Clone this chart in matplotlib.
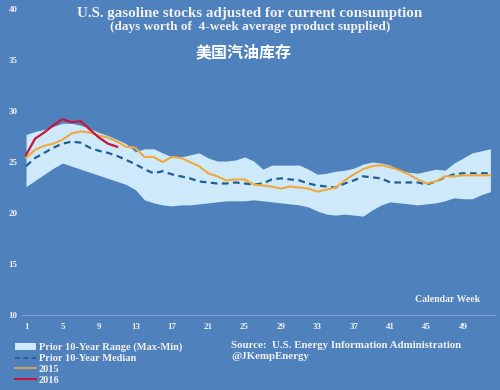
import numpy as np
import matplotlib
matplotlib.use("Agg")
import matplotlib.pyplot as plt
from matplotlib.patches import Patch
from matplotlib.lines import Line2D

weeks = np.arange(1, 53)
range_max = [27.7, 28.0, 28.2, 28.5, 28.8, 28.8, 28.6, 28.3, 27.9, 27.6, 27.2, 26.8, 26.0,
             26.3, 26.3, 25.9, 25.5, 25.5, 25.7, 25.9, 25.4, 25.1, 25.1, 25.2, 25.5, 25.1,
             24.3, 24.7, 24.7, 24.7, 24.7, 24.3, 23.8, 23.9, 24.1, 24.2, 24.4, 24.8, 25.0,
             24.9, 24.7, 24.2, 24.0, 23.9, 24.1, 24.3, 24.2, 24.9, 25.4, 25.9, 26.1, 26.3]
range_min = [22.6, 23.2, 23.8, 24.4, 24.9, 24.6, 24.3, 24.0, 23.7, 23.4, 23.1, 22.8, 22.3,
             21.3, 21.0, 20.8, 20.7, 20.8, 20.8, 20.9, 21.0, 21.1, 21.2, 21.2, 21.2, 21.3,
             21.2, 21.1, 21.0, 20.9, 20.8, 20.6, 20.2, 19.9, 19.8, 19.9, 19.8, 19.7, 20.3,
             20.8, 21.1, 21.0, 20.9, 20.8, 20.9, 21.0, 21.2, 21.5, 21.4, 21.4, 21.8, 22.1]
median = [24.6, 25.4, 25.9, 26.4, 26.8, 27.0, 26.9, 26.4, 26.1, 25.9, 25.6, 25.2, 24.8,
          24.3, 23.9, 24.1, 23.8, 23.6, 23.4, 23.1, 23.0, 22.9, 22.9, 23.0, 22.9, 22.8,
          22.9, 23.3, 23.4, 23.3, 23.2, 22.9, 22.7, 22.6, 22.5, 22.9, 23.2, 23.6, 23.5,
          23.4, 23.0, 23.0, 23.0, 23.0, 22.8, 23.1, 23.5, 23.8, 23.9, 23.9, 23.9, 23.9]
y2015 = [25.4, 26.2, 26.6, 26.8, 27.2, 27.8, 28.0, 27.9, 27.6, 27.4, 27.0, 26.5, 26.4,
         25.5, 25.5, 25.0, 25.5, 25.4, 25.0, 24.6, 23.9, 23.6, 23.2, 23.3, 23.3, 22.8,
         22.7, 22.6, 22.4, 22.6, 22.5, 22.4, 22.1, 22.3, 22.5, 23.2, 23.8, 24.3, 24.6,
         24.7, 24.5, 24.2, 23.8, 23.3, 22.9, 23.1, 23.6, 23.6, 23.7, 23.7, 23.7, 23.7]
y2016 = [25.7, 27.3, 27.9, 28.6, 29.2, 28.9, 29.0, 28.2, 27.4, 26.8, 26.5]
xticks = np.arange(1, 53, 4)
yticks = [10, 15, 20, 25, 30, 35, 40]

bg = "#4F81BD"
band_c = "#CDE9FA"
med_c = "#1F5F94"
c2015 = "#F2A93B"
c2016 = "#C8143C"
txt = "#F2F2F2"
serif = "Liberation Serif"

fig = plt.figure(figsize=(5, 3.9), dpi=100, facecolor=bg)
ax = fig.add_axes([0.043, 0.192, 0.947, 0.785])
ax.set_facecolor(bg)

ax.fill_between(weeks, range_min, range_max, color=band_c, lw=0)
ax.plot(weeks, median, color=med_c, lw=1.6, ls=(0, (3, 2)))
ax.plot(weeks, y2015, color=c2015, lw=1.5)
ax.plot(weeks[:len(y2016)], y2016, color=c2016, lw=1.6)

ax.set_xlim(0.5, 52.5)
ax.set_ylim(10, 40)
ax.set_xticks(xticks)
ax.set_yticks(yticks)
for s in ["top", "right", "left"]:
    ax.spines[s].set_visible(False)
ax.spines["bottom"].set_color("#7FA3D0")
ax.spines["bottom"].set_linewidth(0.8)
ax.tick_params(length=0, labelcolor=txt, labelsize=6.5)
ax.tick_params(axis="x", pad=6)
ax.tick_params(axis="y", pad=3)
for lab in ax.get_xticklabels() + ax.get_yticklabels():
    lab.set_fontfamily(serif)
    lab.set_fontweight("bold")

fig.text(0.5, 0.966, "U.S. gasoline stocks adjusted for current consumption",
         ha="center", va="center", color=txt, fontsize=10.8, fontweight="bold", family=serif)
fig.text(0.5, 0.930, "(days worth of  4-week average product supplied)",
         ha="center", va="center", color=txt, fontsize=9.5, fontweight="bold", family=serif)
fig.text(0.487, 0.865, "美国汽油库存", ha="center", va="center", color="white",
         fontsize=11.5, fontweight="bold", family=["Noto Sans CJK SC", "DejaVu Sans"])
fig.text(0.895, 0.233, "Calendar Week", ha="center", va="center", color=txt,
         fontsize=7, fontweight="bold", family=serif)

handles = [Patch(facecolor=band_c, edgecolor="none"),
           Line2D([], [], color=med_c, lw=1.2, ls=(0, (3, 2))),
           Line2D([], [], color=c2015, lw=1.2),
           Line2D([], [], color=c2016, lw=1.5)]
labels = ["Prior 10-Year Range (Max-Min)", "Prior 10-Year Median", "2015", "2016"]
leg = fig.legend(handles, labels, loc="upper left", bbox_to_anchor=(0.02, 0.135),
                 frameon=False, labelspacing=0.18, handlelength=2.0,
                 handleheight=0.6, handletextpad=0.25, borderpad=0,
                 prop={"family": serif, "weight": "bold", "size": 7.5})
for t in leg.get_texts():
    t.set_color(txt)

fig.text(0.462, 0.115, "Source:  U.S. Energy Information Administration",
         ha="left", va="center", color=txt, fontsize=7.8, fontweight="bold", family=serif)
fig.text(0.462, 0.085, "@JKempEnergy", ha="left", va="center", color=txt,
         fontsize=7.8, fontweight="bold", family=serif)

fig.savefig("out.png", dpi=100, facecolor=bg)
